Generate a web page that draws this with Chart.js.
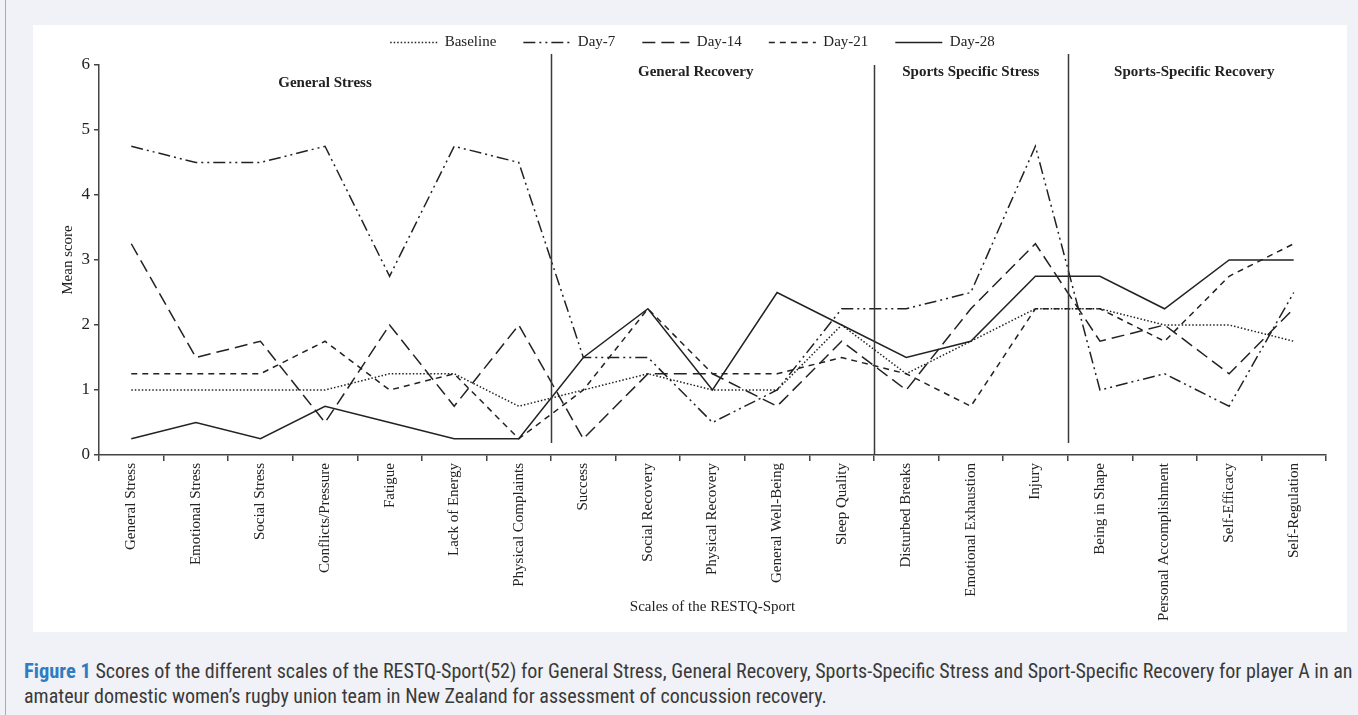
<!DOCTYPE html>
<html>
<head>
<meta charset="utf-8">
<title>RESTQ-Sport scores</title>
<script src="https://cdn.jsdelivr.net/npm/chart.js@4"></script>
<style>
  html, body { margin: 0; padding: 0; }
  body {
    width: 1358px; height: 715px; position: relative; overflow: hidden;
    background: #f0f2f7;
  }
  #edge { position: absolute; left: 5px; top: 0; width: 1px; height: 715px; background: #a9abb0; }
  #panel { position: absolute; left: 33px; top: 25px; width: 1314px; height: 607px; background: #fff; }
  #wrap { position: absolute; left: 33px; top: 8px; width: 1314px; height: 624px; }
  #caption {
    position: absolute; left: 24px; top: 659px; width: 1334px;
    font-family: "Liberation Sans Narrow", "Roboto Condensed", "DejaVu Sans Condensed", sans-serif;
    font-size: 20.05px; line-height: 25px; color: #3a3a3a; white-space: nowrap;
  }
  #caption b { color: #2f7cc1; font-size: 20.5px; }
</style>
</head>
<body>
<div id="edge"></div>
<div id="panel"></div>
<div id="wrap"><canvas id="chart" width="1314" height="624"></canvas></div>
<div id="caption"><b>Figure 1</b> Scores of the different scales of the RESTQ-Sport(52) for General Stress, General Recovery, Sports-Specific Stress and Sport-Specific Recovery for player A in an<br>amateur domestic women’s rugby union team in New Zealand for assessment of concussion recovery.</div>

<script>
// scales of the RESTQ-Sport (x categories)
const scales = [
  "General Stress", "Emotional Stress", "Social Stress", "Conflicts/Pressure",
  "Fatigue", "Lack of Energy", "Physical Complaints", "Success",
  "Social Recovery", "Physical Recovery", "General Well-Being", "Sleep Quality",
  "Disturbed Breaks", "Emotional Exhaustion", "Injury", "Being in Shape",
  "Personal Accomplishment", "Self-Efficacy", "Self-Regulation"
];

// mean scores per assessment
const baseline = [1, 1, 1, 1, 1.25, 1.25, 0.75, 1, 1.25, 1, 1, 2, 1.25, 1.75, 2.25, 2.25, 2, 2, 1.75];
const day7     = [4.75, 4.5, 4.5, 4.75, 2.75, 4.75, 4.5, 1.5, 1.5, 0.5, 1, 2.25, 2.25, 2.5, 4.75, 1, 1.25, 0.75, 2.5];
const day14    = [3.25, 1.5, 1.75, 0.5, 2, 0.75, 2, 0.25, 1.25, 1.25, 0.75, 1.75, 1, 2.25, 3.25, 1.75, 2, 1.25, 2.25];
const day21    = [1.25, 1.25, 1.25, 1.75, 1, 1.25, 0.25, 1, 2.25, 1.25, 1.25, 1.5, 1.25, 0.75, 2.25, 2.25, 1.75, 2.75, 3.25];
const day28    = [0.25, 0.5, 0.25, 0.75, 0.5, 0.25, 0.25, 1.5, 2.25, 1, 2.5, 2, 1.5, 1.75, 2.75, 2.75, 2.25, 3, 3];

const yTicks = [0, 1, 2, 3, 4, 5, 6];

// section headings and dividers (positions in category units)
const sectionNames = ["General Stress", "General Recovery", "Sports Specific Stress", "Sports-Specific Recovery"];
const sectionCentres = [3, 8.74, 13, 16.46];
const dividers = [6.5, 11.5, 14.5];

const serif = "'Liberation Serif', 'Times New Roman', serif";
const ink = "#222";

function series(label, data, dash) {
  return {
    label: label,
    data: data,
    borderColor: ink,
    backgroundColor: ink,
    borderWidth: 1.5,
    borderDash: dash,
    pointRadius: 0,
    tension: 0,
    fill: false
  };
}

const sectionPlugin = {
  id: "sections",
  beforeInit(chart) {
    // keep the legend band at a fixed height
    const fit = chart.legend.fit;
    chart.legend.fit = function () {
      fit.call(this);
      this.height = 57;
    };
  },
  afterLayout(chart) {
    // nudge the legend row to sit where the original has it
    chart.legend.left += 13;
    chart.legend.right += 13;
  },
  afterDatasetsDraw(chart) {
    const ctx = chart.ctx;
    const x = chart.scales.x;
    const y = chart.scales.y;
    ctx.save();
    ctx.strokeStyle = "#3a3a3a";
    ctx.lineWidth = 1.5;
    dividers.forEach((d, i) => {
      const px = Math.round(x.getPixelForValue(d)) + 0.5;
      const top = i === 1 ? y.getPixelForValue(6) : y.getPixelForValue(6) - 11;
      const bottom = i === 1 ? y.getPixelForValue(0) : y.getPixelForValue(0) - 12;
      ctx.beginPath();
      ctx.moveTo(px, top);
      ctx.lineTo(px, bottom);
      ctx.stroke();
    });
    ctx.fillStyle = ink;
    ctx.font = "bold 15px " + serif;
    ctx.textAlign = "center";
    ctx.textBaseline = "middle";
    sectionNames.forEach((name, i) => {
      const top = i === 0 ? y.getPixelForValue(6) + 18 : y.getPixelForValue(6) + 7;
      ctx.fillText(name, x.getPixelForValue(sectionCentres[i]), top);
    });
    ctx.restore();
  }
};

new Chart(document.getElementById("chart"), {
  type: "line",
  data: {
    labels: scales,
    datasets: [
      series("Baseline", baseline, [1.5, 2]),
      series("Day-7", day7, [12, 4, 2, 4, 2, 4]),
      series("Day-14", day14, [13, 6]),
      series("Day-21", day21, [6, 5]),
      series("Day-28", day28, [])
    ]
  },
  options: {
    responsive: false,
    animation: false,
    layout: { padding: { left: 0, right: 21, top: 0, bottom: 0 } },
    plugins: {
      legend: {
        position: "top",
        labels: {
          usePointStyle: true,
          pointStyle: "line",
          pointStyleWidth: 47,
          padding: 27,
          color: ink,
          font: { family: serif, size: 15 },
          generateLabels(chart) {
            return chart.data.datasets.map((ds, i) => ({
              text: ds.label,
              datasetIndex: i,
              fillStyle: ds.borderColor,
              strokeStyle: ds.borderColor,
              lineWidth: ds.borderWidth,
              lineDash: ds.borderDash,
              pointStyle: "line",
              fontColor: ink,
              hidden: false
            }));
          }
        }
      },
      tooltip: { enabled: false }
    },
    scales: {
      x: {
        offset: true,
        afterFit(scale) { scale.height = 177; },
        grid: {
          offset: true,
          drawOnChartArea: false,
          drawTicks: true,
          tickLength: 6,
          color: "#444",
          lineWidth: 1.5
        },
        border: { display: true, color: "#444", width: 1.5 },
        ticks: {
          autoSkip: false,
          minRotation: 90,
          maxRotation: 90,
          padding: 2,
          color: ink,
          font: { family: serif, size: 15 }
        },
        title: {
          display: true,
          text: "Scales of the RESTQ-Sport",
          color: ink,
          font: { family: serif, size: 15 },
          padding: { top: 4, bottom: 16 }
        }
      },
      y: {
        min: 0,
        max: 6,
        afterFit(scale) { scale.width = 66; },
        afterBuildTicks(scale) { scale.ticks = yTicks.map(v => ({ value: v })); },
        grid: {
          drawOnChartArea: false,
          drawTicks: true,
          tickLength: 5,
          color: "#444",
          lineWidth: 1.5
        },
        border: { display: true, color: "#444", width: 1.5 },
        ticks: {
          padding: 4,
          color: ink,
          font: { family: serif, size: 17 }
        },
        title: {
          display: true,
          text: "Mean score",
          color: ink,
          font: { family: serif, size: 15 },
          padding: { top: 26, bottom: 0 }
        }
      }
    }
  },
  plugins: [sectionPlugin]
});
</script>
</body>
</html>
